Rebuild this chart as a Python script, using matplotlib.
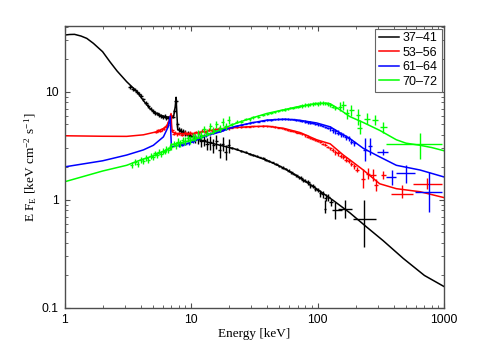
import numpy as np
import matplotlib.pyplot as plt
from matplotlib.ticker import FuncFormatter, LogLocator, NullFormatter

plt.rcParams['mathtext.fontset'] = 'stix'

labels = ['37–41', '53–56', '61–64', '70–72']
colors = ['black', '#ff0000', '#0000ff', '#00ff00']

# ---- model curves (energy keV, E F_E) ----
mod_e_black = [1.0, 1.1, 1.2, 1.35, 1.5, 1.69, 2.0, 2.29, 2.6, 3.1, 3.72, 4.2, 4.74, 5.2,
               5.69, 6.2, 6.82, 7.3, 7.5, 7.62, 7.72, 7.85, 8.2, 9.0, 10.4, 12.0, 14.0, 17.0,
               21.6, 28, 39.7, 55, 72.7, 100, 133, 180, 245, 330, 477, 700, 1000]
mod_f_black = [33.5, 33.9, 34.0, 32.8, 31.2, 28.1, 23.5, 18.9, 15.6, 12.4, 10.1, 8.3, 7.0, 6.4,
               6.08, 5.9, 5.8, 6.0, 7.3, 8.9, 6.5, 4.45, 4.4, 4.1, 3.83, 3.55, 3.38, 3.2,
               2.99, 2.7, 2.33, 1.95, 1.6, 1.25, 0.99, 0.76, 0.56, 0.42, 0.287, 0.2, 0.158]

mod_e_red = [1.0, 2.0, 3.1, 4.2, 5.35, 6.0, 6.43, 6.75, 6.95, 7.02, 7.1, 7.6, 8.5, 10.4,
             13, 17, 21.6, 30, 39.7, 53.7, 72.7, 98.5, 126, 160, 180, 230, 310, 420, 647, 1000]
mod_f_red = [3.92, 3.88, 3.87, 4.0, 4.27, 4.55, 4.85, 5.5, 6.3, 5.0, 4.27, 4.12, 4.1, 4.12,
             4.3, 4.55, 4.65, 4.77, 4.81, 4.6, 4.2, 3.6, 3.3, 2.6, 2.35, 1.89, 1.41, 1.27, 1.19, 1.05]

mod_e_blue = [1.0, 2.0, 3.1, 4.2, 5.04, 6.05, 6.6, 6.85, 6.92, 7.0, 8.5, 10.4, 13.3, 17,
              21.6, 30, 39.7, 55, 72.7, 98.5, 126, 160, 180, 230, 310, 420, 647, 1000]
mod_f_blue = [2.02, 2.3, 2.6, 2.9, 3.2, 3.83, 4.74, 5.95, 4.2, 3.1, 3.25, 3.44, 3.97, 4.25,
              4.74, 5.15, 5.47, 5.58, 5.45, 5.15, 4.74, 4.0, 3.7, 3.0, 2.5, 2.09, 1.89, 1.63]

mod_e_green = [1.0, 2.0, 3.1, 3.95, 5.0, 6.0, 6.8, 7.0, 7.1, 8.5, 10.0, 11.7, 14, 17, 21.6,
               24.4, 30, 39.7, 55, 72.7, 98.5, 118, 126, 140, 160, 180, 230, 310, 420, 500,
               647, 800, 1000]
mod_f_green = [1.47, 1.85, 2.09, 2.33, 2.55, 2.8, 3.0, 3.3, 3.25, 3.4, 3.55, 3.75, 4.05, 4.45, 5.0,
               5.27, 5.7, 6.3, 6.85, 7.35, 7.8, 7.85, 7.75, 7.2, 6.5, 5.9, 5.2, 4.4, 3.6, 3.35,
               3.2, 3.05, 2.85]

# ---- dense data points (energy, flux, relative error) ----
dat_e_black = [3.3, 3.45, 3.6, 3.75, 3.9, 4.05, 4.2, 4.4, 4.6, 4.8, 5.0, 5.2, 5.4, 5.6, 5.8,
               6.0, 6.2, 6.4, 6.6, 6.8, 7.0, 7.2, 7.4, 7.6, 7.8, 8.0, 8.3, 8.6, 9.0, 9.4, 9.8,
               10.3, 10.8, 11.4, 12.0, 12.7, 13.4, 14.2, 15.0, 15.9, 16.8, 17.8, 18.8, 19.9,
               21, 23, 25, 27, 29, 31, 33, 35, 37, 39, 41, 44, 47, 50, 53, 56, 59, 62, 65,
               68, 71, 74, 77, 80, 84, 88, 92, 96, 100, 105, 110, 116, 122, 128]
dat_f_black = [11.0, 10.7, 10.5, 10.0, 9.6, 9.1, 8.5, 7.9, 7.4, 7.0, 6.7, 6.4, 6.3, 6.1, 6.0,
               5.85, 5.95, 5.7, 5.8, 5.75, 5.8, 5.9, 6.6, 8.2, 5.0, 4.5, 4.35, 4.3, 4.15, 4.0, 3.9,
               3.85, 3.7, 3.65, 3.5, 3.6, 3.3, 3.4, 3.2, 3.5, 2.9, 3.3, 2.8, 3.2,
               3.02, 2.95, 2.85, 2.75, 2.68, 2.6, 2.55, 2.47, 2.42, 2.36, 2.3, 2.22, 2.14, 2.07,
               1.99, 1.93, 1.87, 1.8, 1.74, 1.69, 1.62, 1.6, 1.52, 1.5, 1.45, 1.37, 1.35, 1.26,
               1.24, 1.15, 1.13, 1.05, 1.06, 0.95]
dat_r_black = [0.04] * 24 + [0.05, 0.05, 0.06, 0.06, 0.07, 0.08, 0.08, 0.09, 0.1, 0.1, 0.12,
               0.12, 0.13, 0.14, 0.15, 0.15, 0.16, 0.15, 0.16, 0.15] + \
              [0.02] * 14 + [0.03] * 10 + [0.05] * 5 + [0.07] * 5

dat_e_red = [5.3, 5.5, 5.7, 5.9, 6.1, 6.3, 6.5, 6.7, 6.9, 7.1, 7.3, 7.5, 7.8, 8.1, 8.5, 8.9,
             9.3, 9.8, 10.3, 10.9, 11.5, 12.2, 13.0, 13.8, 14.7, 15.6, 16.6, 17.6, 18.7, 19.8,
             21, 23, 25, 27, 29, 31, 34, 37, 40, 43, 46, 49, 52, 55, 58, 61, 64, 67, 70, 73,
             76, 80, 84, 88, 92, 96, 100, 105, 110, 115, 120, 126, 132, 138, 145, 152, 160,
             168, 176, 185, 195, 205]
dat_f_red = [4.25, 4.4, 4.35, 4.5, 4.55, 4.75, 4.9, 5.3, 6.0, 4.4, 4.1, 4.2, 4.05, 4.15, 4.0,
             4.2, 4.1, 4.2, 4.05, 4.25, 4.2, 4.35, 4.25, 4.45, 4.35, 4.5, 4.55, 4.5, 4.65, 4.6,
             4.65, 4.68, 4.72, 4.75, 4.77, 4.8, 4.8, 4.82, 4.8, 4.78, 4.72, 4.66, 4.6, 4.52,
             4.45, 4.38, 4.32, 4.25, 4.2, 4.12, 4.05, 3.95, 3.85, 3.75, 3.68, 3.6, 3.5, 3.42,
             3.3, 3.25, 3.1, 3.0, 2.9, 2.75, 2.7, 2.55, 2.5, 2.35, 2.3, 2.15, 2.05, 1.9]
dat_r_red = [0.03] * 30 + [0.015] * 20 + [0.025] * 12 + [0.05] * 10

dat_e_blue = [8.0, 8.5, 9.0, 9.6, 10.3, 11.0, 11.7, 12.4, 13.2, 14.0, 14.9, 15.8, 16.8, 17.9,
              19.0, 21, 23, 25, 27, 29, 31, 34, 37, 40, 43, 46, 49, 52, 55, 58, 61, 64, 67,
              70, 73, 76, 80, 84, 88, 92, 96, 100, 105, 110, 115, 120, 126, 132, 138, 145,
              152, 160, 168, 176, 185, 195]
dat_f_blue = [3.2, 3.25, 3.3, 3.35, 3.5, 3.75, 3.85, 3.9, 3.95, 4.1, 4.2, 4.3, 4.35, 4.5, 4.6,
              4.7, 4.85, 4.98, 5.08, 5.15, 5.22, 5.3, 5.4, 5.47, 5.5, 5.55, 5.58, 5.6, 5.6,
              5.58, 5.55, 5.55, 5.5, 5.45, 5.42, 5.38, 5.3, 5.22, 5.2, 5.12, 5.05, 5.0, 4.9,
              4.8, 4.75, 4.6, 4.6, 4.4, 4.3, 4.2, 4.05, 4.0, 3.8, 3.7, 3.45, 3.35]
dat_r_blue = [0.03] * 15 + [0.015] * 20 + [0.025] * 11 + [0.05] * 10

dat_e_green = [3.4, 3.6, 3.8, 4.0, 4.2, 4.4, 4.6, 4.8, 5.0, 5.2, 5.4, 5.6, 5.8, 6.0, 6.2, 6.4,
               6.6, 6.8, 7.0, 7.3, 7.6, 7.9, 8.2, 8.6, 9.0, 9.4, 9.8, 10.3, 10.8, 11.4, 12.0,
               12.7, 13.4, 14.2, 15.0, 15.9, 16.8, 17.8, 18.8, 19.9,
               21, 23, 25, 27, 29, 31, 34, 37, 40, 43, 46, 49, 52, 55, 58, 61, 64, 67, 70,
               73, 76, 80, 84, 88, 92, 96, 100, 105, 110, 115, 120, 126, 132, 138]
dat_f_green = [2.1, 2.25, 2.15, 2.35, 2.3, 2.45, 2.35, 2.55, 2.5, 2.7, 2.6, 2.8, 2.65, 2.85,
               2.8, 2.95, 2.9, 3.05, 3.1, 3.3, 3.2, 3.45, 3.35, 3.55, 3.5, 3.7, 3.6, 3.85, 3.8,
               4.1, 4.0, 4.5, 4.2, 4.8, 4.4, 5.0, 4.6, 5.3, 4.8, 5.5,
               5.0, 5.3, 5.3, 5.6, 5.55, 5.8, 5.9, 6.1, 6.25, 6.4, 6.5, 6.6, 6.75, 6.85, 6.9,
               7.05, 7.1, 7.2, 7.25, 7.35, 7.4, 7.5, 7.55, 7.65, 7.7, 7.8, 7.75, 7.85, 7.9,
               7.8, 7.7, 7.6, 7.3, 7.1]
dat_r_green = [0.06] * 20 + [0.08] * 20 + [0.025] * 20 + [0.04] * 14

# ---- sparse high-energy bins: E, E_lo, E_hi, F, F_lo, F_hi ----
sp_black = [(114, 112, 116, 0.83, 0.76, 0.99), (137, 129, 155, 0.80, 0.67, 0.96),
            (165, 145, 186, 0.83, 0.68, 0.99), (233, 190, 288, 0.67, 0.37, 0.99)]
sp_red = [(230, 222, 238, 1.55, 1.28, 1.95), (250, 242, 258, 1.75, 1.55, 1.98),
          (275, 262, 290, 1.7, 1.5, 1.92), (291, 282, 300, 1.38, 1.22, 1.55),
          (330, 316, 345, 1.7, 1.55, 1.85), (463, 378, 571, 1.13, 1.05, 1.37),
          (730, 571, 960, 1.41, 1.25, 1.6)]
sp_blue = [(237, 230, 244, 2.9, 2.3, 3.7), (260, 252, 268, 3.15, 2.6, 3.7),
           (330, 294, 363, 2.78, 2.6, 2.95), (385, 350, 421, 1.63, 1.37, 1.89),
           (505, 421, 590, 1.79, 1.42, 2.09), (765, 590, 960, 1.19, 0.77, 1.82)]
sp_green = [(150, 144, 156, 7.27, 6.6, 8.0), (160, 153, 167, 7.5, 6.8, 8.3),
            (170, 163, 177, 6.3, 5.6, 7.0), (185, 177, 193, 6.8, 6.0, 7.6),
            (210, 202, 218, 6.1, 4.9, 7.0), (215, 207, 223, 4.6, 4.1, 5.5),
            (245, 232, 258, 5.6, 5.0, 6.3), (285, 270, 300, 5.47, 4.9, 6.1),
            (331, 310, 355, 4.74, 4.2, 5.3), (647, 350, 960, 3.26, 2.4, 4.13)]

models = [(mod_e_black, mod_f_black), (mod_e_red, mod_f_red),
          (mod_e_blue, mod_f_blue), (mod_e_green, mod_f_green)]
dense = [(dat_e_black, dat_f_black, dat_r_black), (dat_e_red, dat_f_red, dat_r_red),
         (dat_e_blue, dat_f_blue, dat_r_blue), (dat_e_green, dat_f_green, dat_r_green)]
sparse = [sp_black, sp_red, sp_blue, sp_green]

fig = plt.figure(figsize=(4.91, 3.47), dpi=100)
ax = fig.add_axes([0.1314, 0.1124, 0.7729, 0.8126])

for (me, mf), (de, df, dr), sp, col, lab in zip(models, dense, sparse, colors, labels):
    de = np.array(de)
    df = np.array(df)
    dr = np.array(dr)
    # dense data: small bins
    ax.errorbar(de, df, xerr=de * 0.03, yerr=df * dr, fmt='none',
                ecolor=col, elinewidth=1.0, capsize=0)
    # sparse wide bins
    sp = np.array(sp)
    ax.errorbar(sp[:, 0], sp[:, 3],
                xerr=[sp[:, 0] - sp[:, 1], sp[:, 2] - sp[:, 0]],
                yerr=[sp[:, 3] - sp[:, 4], sp[:, 5] - sp[:, 3]],
                fmt='none', ecolor=col, elinewidth=1.0, capsize=0)
    ax.plot(me, mf, color=col, lw=1.1, label=lab)

ax.set_xscale('log')
ax.set_yscale('log')
ax.set_xlim(1, 1000)
ax.set_ylim(0.1, 40.6)

fmt = FuncFormatter(lambda v, p: '%g' % v)
ax.xaxis.set_major_formatter(fmt)
ax.yaxis.set_major_formatter(fmt)
ax.xaxis.set_minor_locator(LogLocator(base=10, subs=np.arange(2, 10)))
ax.yaxis.set_minor_locator(LogLocator(base=10, subs=np.arange(2, 10)))
ax.xaxis.set_minor_formatter(NullFormatter())
ax.yaxis.set_minor_formatter(NullFormatter())
ax.tick_params(which='both', direction='in', top=True, right=True, color='0.3')
ax.tick_params(which='major', length=3.5, width=0.8, labelsize=8.7, pad=4)
ax.tick_params(which='minor', length=2, width=0.6)
for t in ax.get_xticklabels() + ax.get_yticklabels():
    t.set_family('Liberation Sans')
for s in ax.spines.values():
    s.set_linewidth(1.0)
    s.set_color('0.3')

ax.set_xlabel('Energy [keV]', family='Liberation Serif', fontsize=9.5, labelpad=2)
ax.set_ylabel(r'E F$_\mathregular{E}$ [keV cm$^\mathregular{-2}$ s$^\mathregular{-1}$]',
              family='Liberation Serif', fontsize=9.5, labelpad=2)

leg = ax.legend(loc='upper right', prop={'family': 'Liberation Sans', 'size': 9},
                fancybox=False, framealpha=1, edgecolor='0.4', borderaxespad=0.2,
                handlelength=1.6, handletextpad=0.3, labelspacing=0.2, borderpad=0.3)
leg.get_frame().set_linewidth(0.8)

fig.savefig('out.png', dpi=100)
